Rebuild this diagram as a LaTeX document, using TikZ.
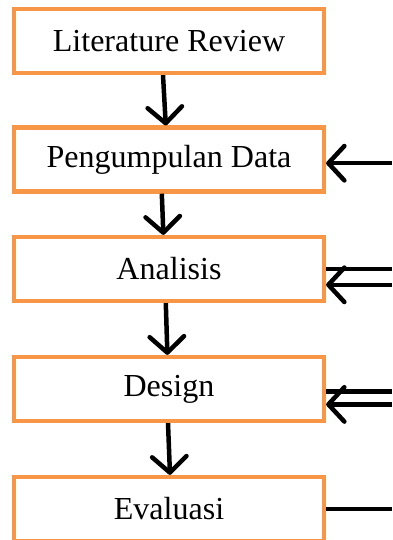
\documentclass[tikz,border=0pt]{standalone}
\usepackage{fontspec}
\setmainfont{Liberation Serif}
\usetikzlibrary{arrows.meta}
\definecolor{boxorange}{HTML}{F79646}
\tikzset{box/.style={draw=boxorange, line width=3pt, fill=white, minimum width=7.75cm, minimum height=1.6cm, inner sep=0pt, font=\fontsize{22.8}{27}\selectfont}}
\tikzset{edge/.style={color=black, line width=3.2pt}}
\tikzset{arr/.style={edge, -{Straight Barb[length=4mm, width=8.6mm, line cap=round, line join=round]}}}

\begin{document}
\begin{tikzpicture}
  \useasboundingbox (0,0) rectangle (9.8,-13.5);

  \node[box] (lit) at (4.225,-1.025) {Literature Review};
  \node[box] (pd) at (4.225,-3.99) {Pengumpulan Data};
  \node[box] (an) at (4.225,-6.725) {Analisis};
  \node[box] (des) at (4.225,-9.725) {Design};
  \node[box] (ev) at (4.225,-12.725) {Evaluasi};

    \draw[arr] ([xshift=-1.5mm]lit.south) -- ([xshift=-0.8mm]pd.north);
    \draw[arr] ([xshift=-1.8mm]pd.south) -- ([xshift=-1.4mm]an.north);
    \draw[arr] ([xshift=-0.8mm]an.south) -- ([xshift=-0.4mm]des.north);
    \draw[arr] ([xshift=-0.25mm]des.south) -- ([xshift=0.25mm]ev.north);

  \coordinate (r1) at (9.8,-4.08);
  \coordinate (r2) at (9.8,-6.73);
  \coordinate (r3) at (9.8,-7.12);
  \coordinate (r4) at (9.8,-9.79);
  \coordinate (r5) at (9.8,-10.11);
  \coordinate (r6) at (9.8,-12.73);

    \draw[arr] (r1) -- (r1 -| pd.east);
    \draw[edge] (r2) -- (r2 -| an.east);
    \draw[arr] (r3) -- (r3 -| an.east);
    \draw[edge] (r4) -- (r4 -| des.east);
    \draw[arr] (r5) -- (r5 -| des.east);
    \draw[edge] (r6) -- (r6 -| ev.east);
\end{tikzpicture}
\end{document}
